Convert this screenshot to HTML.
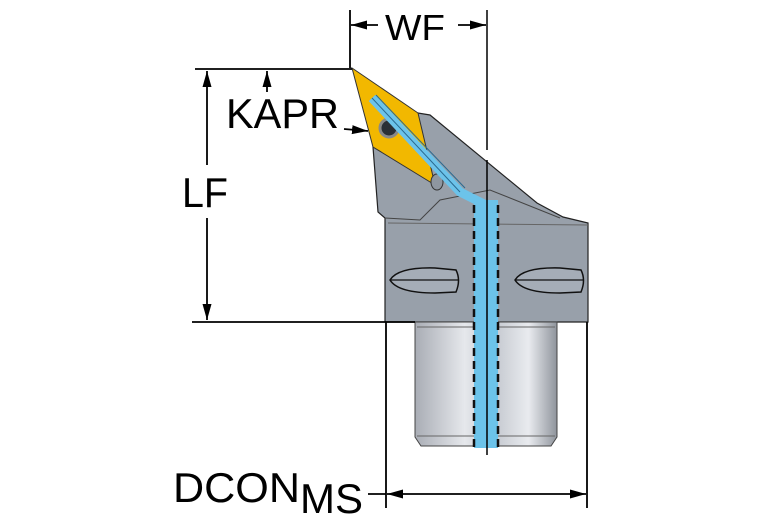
<!DOCTYPE html>
<html><head><style>body{margin:0;background:#fff}svg{display:block}</style></head><body>
<svg width="767" height="523" viewBox="0 0 767 523" xmlns="http://www.w3.org/2000/svg" font-family="Liberation Sans, sans-serif">
<defs>
<linearGradient id="sh" x1="0" x2="1" y1="0" y2="0">
<stop offset="0" stop-color="#a9adb5"/><stop offset="0.35" stop-color="#e6e8ec"/><stop offset="0.55" stop-color="#c3c7ce"/><stop offset="0.8" stop-color="#e9ebef"/><stop offset="1" stop-color="#8f949c"/></linearGradient>
<marker id="a" viewBox="0 0 16 10" refX="16" refY="5" markerWidth="16" markerHeight="10" markerUnits="userSpaceOnUse" orient="auto-start-reverse"><path d="M0,0.5 L16,5 L0,9.5z" fill="#000"/></marker>
</defs>
<!-- upper body -->
<path d="M373,147 L418,113 L430,115 L537,203 L563,217 L588,223 L588,322 L385,322 L385,218 L378,212 Z" fill="#98a0aa" stroke="#222" stroke-width="1.2"/>
<path d="M385,218 L420,220 L440,200 L490,190 L560,218" fill="none" stroke="#444" stroke-width="1"/>
<path d="M388,223 L588,225" stroke="#666" stroke-width="1"/>
<!-- slots -->
<path d="M390,280 Q398,267 435,268 L456,270 Q461,280 456,292 L435,293 Q398,293 390,280Z" fill="#a5adb7" stroke="#111" stroke-width="1.5"/>
<path d="M390,280 L459,280" stroke="#111" stroke-width="1.3"/>
<path d="M515,280 Q523,267 560,268 L581,270 Q586,280 581,292 L560,293 Q523,293 515,280Z" fill="#a5adb7" stroke="#111" stroke-width="1.5"/>
<path d="M515,280 L584,280" stroke="#111" stroke-width="1.3"/>
<!-- shank -->
<path d="M415,322 L557,322 L557,437 L551,446 L421,446 L415,437 Z" fill="url(#sh)" stroke="#444"/>
<path d="M417,327 L555,327 M417,436 L555,436" stroke="#666"/>
<!-- insert -->
<path d="M352,68 L418,113 L435,185 L373,147 Z" fill="#f2b800" stroke="#333"/>
<circle cx="389" cy="128" r="9" fill="#2a2f36" stroke="#888" stroke-width="3"/>
<ellipse cx="437" cy="182" rx="6" ry="8" fill="#8e96a0" stroke="#333"/>
<!-- coolant channels -->
<path d="M372,98 L460,192 L486,205" stroke="#6cc3ea" stroke-width="9" fill="none"/>
<path d="M372,98 L460,192 M376,95 L465,188" stroke="#2a6a90" stroke-width="1" fill="none"/>
<rect x="474" y="200" width="24" height="248" fill="#6cc3ea"/>
<path d="M474,205 V448 M498,205 V448" stroke="#111" stroke-width="2.5" stroke-dasharray="8,5"/>
<!-- center line -->
<path d="M487,10 V150 M487,160 V455" stroke="#000" stroke-width="1.5"/>
<!-- dimension lines -->
<path d="M350,10 V68" stroke="#000" stroke-width="1.8"/>
<line x1="378" y1="25" x2="351" y2="25" stroke="#000" stroke-width="1.8" marker-end="url(#a)"/>
<line x1="458" y1="25" x2="486" y2="25" stroke="#000" stroke-width="1.8" marker-end="url(#a)"/>
<path d="M195,69 H352 M192,322 H415" stroke="#000" stroke-width="1.8"/>
<line x1="207" y1="165" x2="207" y2="71" stroke="#000" stroke-width="1.8" marker-end="url(#a)"/>
<line x1="207" y1="218" x2="207" y2="320" stroke="#000" stroke-width="1.8" marker-end="url(#a)"/>
<line x1="267" y1="92" x2="267" y2="71" stroke="#000" stroke-width="1.8" marker-end="url(#a)"/>
<line x1="344" y1="129" x2="368" y2="131" stroke="#000" stroke-width="1.8" marker-end="url(#a)"/>
<path d="M386,322 V508 M587,322 V508" stroke="#000" stroke-width="1.8"/>
<line x1="387" y1="494" x2="586" y2="494" stroke="#000" stroke-width="1.8" marker-start="url(#a)" marker-end="url(#a)"/>
<line x1="368" y1="494" x2="386" y2="494" stroke="#000" stroke-width="1.8"/>
<text x="385" y="40" font-size="36" textLength="60" lengthAdjust="spacingAndGlyphs">WF</text>
<text x="226" y="128" font-size="42" textLength="113" lengthAdjust="spacingAndGlyphs">KAPR</text>
<text x="182" y="207" font-size="42" textLength="46" lengthAdjust="spacingAndGlyphs">LF</text>
<text x="173" y="502" font-size="42" textLength="127" lengthAdjust="spacingAndGlyphs">DCON</text>
<text x="300" y="513" font-size="42" textLength="63" lengthAdjust="spacingAndGlyphs">MS</text>
</svg>
</body></html>
